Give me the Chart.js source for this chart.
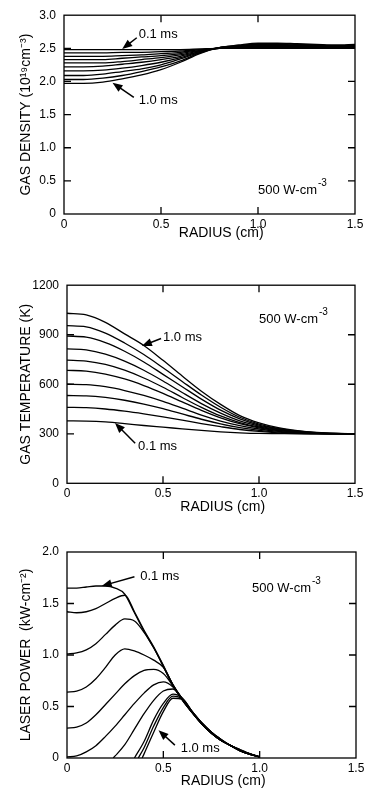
<!DOCTYPE html>
<html lang="en">

<head>
    <meta charset="UTF-8" />
    <title>Gas density, temperature and laser power</title>
    <script src="https://cdn.jsdelivr.net/npm/chart.js"></script>
    <style>
        body { margin: 0; background: #fff; }
        .panel { position: absolute; left: 0; width: 369px; }
    </style>
</head>

<body>

    <div class="panel" style="top:0px;height:245px"><canvas id="densChart"></canvas></div>
    <div class="panel" style="top:270px;height:246px"><canvas id="tempChart"></canvas></div>
    <div class="panel" style="top:535px;height:269px"><canvas id="powerChart"></canvas></div>

</body>

<script>
    // curves at 0.1 ms ... 1.0 ms
    const times = ['0.1 ms', '0.2 ms', '0.3 ms', '0.4 ms', '0.5 ms', '0.6 ms', '0.7 ms', '0.8 ms', '0.9 ms', '1.0 ms'];

    const radiusLabels = ['0', '0.5', '1.0', '1.5'];

    // ---- gas density (10^19 cm^-3) ----
    const densRadius = [0, 0.1, 0.2, 0.3, 0.4, 0.5, 0.6, 0.7, 0.8, 0.9, 1.0, 1.1, 1.2, 1.3, 1.4, 1.5];
    const dens_01 = [2.48, 2.48, 2.48, 2.48, 2.48, 2.48, 2.48, 2.49, 2.50, 2.50, 2.50, 2.50, 2.50, 2.50, 2.50, 2.50];
    const dens_02 = [2.43, 2.43, 2.43, 2.44, 2.44, 2.45, 2.46, 2.48, 2.50, 2.50, 2.51, 2.51, 2.51, 2.51, 2.50, 2.51];
    const dens_03 = [2.38, 2.38, 2.38, 2.39, 2.40, 2.42, 2.44, 2.48, 2.50, 2.51, 2.52, 2.52, 2.51, 2.51, 2.51, 2.51];
    const dens_04 = [2.33, 2.33, 2.33, 2.35, 2.37, 2.39, 2.42, 2.47, 2.50, 2.52, 2.52, 2.52, 2.52, 2.52, 2.52, 2.52];
    const dens_05 = [2.28, 2.28, 2.28, 2.30, 2.33, 2.36, 2.40, 2.46, 2.50, 2.52, 2.53, 2.53, 2.53, 2.52, 2.52, 2.52];
    const dens_06 = [2.22, 2.22, 2.23, 2.26, 2.29, 2.33, 2.38, 2.45, 2.51, 2.53, 2.54, 2.54, 2.54, 2.53, 2.53, 2.53];
    const dens_07 = [2.16, 2.16, 2.17, 2.20, 2.24, 2.29, 2.36, 2.45, 2.51, 2.53, 2.55, 2.55, 2.54, 2.54, 2.53, 2.54];
    const dens_08 = [2.09, 2.09, 2.11, 2.15, 2.19, 2.25, 2.34, 2.44, 2.51, 2.54, 2.56, 2.56, 2.55, 2.55, 2.54, 2.55];
    const dens_09 = [2.03, 2.03, 2.05, 2.09, 2.15, 2.22, 2.31, 2.43, 2.51, 2.54, 2.57, 2.57, 2.56, 2.55, 2.54, 2.55];
    const dens_10 = [1.97, 1.97, 1.99, 2.04, 2.10, 2.18, 2.29, 2.42, 2.51, 2.55, 2.58, 2.58, 2.57, 2.56, 2.55, 2.56];
    const densLabels = ['0', '0.5', '1.0', '1.5', '2.0', '2.5', '3.0'];

    // ---- gas temperature (K) ----
    const tempRadius = [0, 0.1, 0.2, 0.3, 0.4, 0.5, 0.6, 0.7, 0.8, 0.9, 1.0, 1.1, 1.2, 1.3, 1.4, 1.5];
    const temp_01 = [378, 377, 372, 362, 350, 340, 330, 320, 312, 306, 302, 301, 300, 300, 300, 300];
    const temp_02 = [460, 458, 450, 437, 421, 403, 383, 362, 343, 326, 314, 306, 302, 300, 300, 300];
    const temp_03 = [532, 530, 520, 503, 480, 452, 420, 388, 360, 337, 321, 310, 304, 301, 300, 300];
    const temp_04 = [600, 598, 585, 562, 532, 496, 455, 413, 377, 349, 329, 315, 306, 302, 300, 300];
    const temp_05 = [684, 680, 662, 632, 592, 545, 493, 442, 397, 361, 336, 319, 309, 303, 300, 300];
    const temp_06 = [746, 740, 720, 685, 638, 582, 520, 460, 408, 368, 341, 322, 311, 304, 301, 300];
    const temp_07 = [814, 808, 782, 740, 685, 620, 550, 483, 425, 378, 347, 326, 313, 305, 301, 300];
    const temp_08 = [892, 885, 852, 800, 735, 660, 585, 510, 443, 390, 353, 330, 315, 306, 302, 300];
    const temp_09 = [955, 948, 910, 850, 780, 700, 617, 535, 461, 400, 359, 333, 317, 307, 302, 300];
    const temp_10 = [1030, 1020, 975, 905, 835, 745, 650, 558, 478, 410, 366, 337, 319, 308, 302, 300];
    const tempLabels = ['0', '300', '600', '900', '1200'];

    // ---- laser power (kW cm^-2) ----
    const powRadius = [0, 0.05, 0.1, 0.15, 0.2, 0.25, 0.3, 0.35, 0.4, 0.45, 0.5, 0.55, 0.6, 0.65, 0.7, 0.75, 0.8, 0.85, 0.9, 0.95, 1.0];
    const pow_01 = [1.65, 1.65, 1.66, 1.67, 1.67, 1.65, 1.59, 1.41, 1.23, 1.07, 0.89, 0.71, 0.56, 0.44, 0.33, 0.24, 0.17, 0.12, 0.07, 0.035, 0.01];
    const pow_02 = [1.42, 1.41, 1.42, 1.45, 1.50, 1.55, 1.58, 1.42, 1.24, 1.08, 0.90, 0.71, 0.57, 0.44, 0.33, 0.24, 0.17, 0.12, 0.07, 0.04, 0.01];
    const pow_03 = [1.01, 1.02, 1.05, 1.11, 1.20, 1.29, 1.35, 1.33, 1.22, 1.07, 0.89, 0.70, 0.56, 0.44, 0.33, 0.24, 0.17, 0.12, 0.07, 0.035, 0.01];
    const pow_04 = [0.64, 0.65, 0.69, 0.77, 0.88, 1.00, 1.06, 1.04, 1.00, 0.95, 0.88, 0.71, 0.57, 0.45, 0.34, 0.25, 0.18, 0.12, 0.07, 0.04, 0.01];
    const pow_05 = [0.29, 0.30, 0.34, 0.42, 0.52, 0.62, 0.72, 0.80, 0.85, 0.86, 0.82, 0.70, 0.56, 0.44, 0.33, 0.24, 0.17, 0.12, 0.07, 0.035, 0.01];
    const pow_06 = [0.01, 0.02, 0.06, 0.12, 0.21, 0.31, 0.42, 0.53, 0.63, 0.71, 0.74, 0.69, 0.57, 0.45, 0.34, 0.25, 0.18, 0.12, 0.08, 0.04, 0.01];
    const pow_07 = [null, null, null, null, null, 0.02, 0.13, 0.28, 0.43, 0.56, 0.65, 0.67, 0.57, 0.44, 0.33, 0.24, 0.17, 0.12, 0.07, 0.035, 0.01];
    const pow_08 = [null, null, null, null, null, null, null, null, 0.16, 0.37, 0.53, 0.62, 0.58, 0.45, 0.34, 0.25, 0.17, 0.12, 0.07, 0.04, 0.01];
    const pow_09 = [null, null, null, null, null, null, null, null, 0.10, 0.31, 0.49, 0.60, 0.57, 0.44, 0.33, 0.24, 0.17, 0.12, 0.07, 0.035, 0.01];
    const pow_10 = [null, null, null, null, null, null, null, null, 0.04, 0.25, 0.45, 0.58, 0.57, 0.45, 0.34, 0.25, 0.18, 0.12, 0.08, 0.04, 0.01];
    // radius where the late curves leave zero
    const powStart = [null, null, null, null, null, null, 0.24, 0.35, 0.37, 0.39];
    const powLabels = ['0', '0.5', '1.0', '1.5', '2.0'];

    const FONT = '"Liberation Sans", Arial, Helvetica, sans-serif';

    function makeSets(xs, series, starts) {
        return series.map(function (ys, i) {
            var pts = [];
            if (starts && starts[i] != null) pts.push({ x: starts[i], y: 0 });
            ys.forEach(function (v, j) {
                if (v != null) pts.push({ x: xs[j], y: v });
            });
            return {
                label: times[i],
                data: pts,
                borderColor: '#000',
                borderWidth: 1.3,
                pointRadius: 0,
                fill: false,
                cubicInterpolationMode: 'monotone'
            };
        });
    }

    // box with inward ticks + arrows and notes
    const framePlugin = {
        id: 'frame',
        afterDatasetsDraw: function (chart, args, opts) {
            var ctx = chart.ctx;
            var a = chart.chartArea;
            var xs = chart.scales.x, ys = chart.scales.y;
            ctx.save();
            ctx.strokeStyle = '#000';
            ctx.fillStyle = '#000';
            ctx.lineWidth = 1.3;
            ctx.strokeRect(a.left, a.top, a.right - a.left, a.bottom - a.top);
            ctx.beginPath();
            xs.ticks.forEach(function (t) {
                var px = xs.getPixelForValue(t.value);
                if (px <= a.left + 1 || px >= a.right - 1) return;
                ctx.moveTo(px, a.bottom); ctx.lineTo(px, a.bottom - 7);
                ctx.moveTo(px, a.top); ctx.lineTo(px, a.top + 7);
            });
            ys.ticks.forEach(function (t) {
                var py = ys.getPixelForValue(t.value);
                if (py <= a.top + 1 || py >= a.bottom - 1) return;
                ctx.moveTo(a.left, py); ctx.lineTo(a.left + 7, py);
                ctx.moveTo(a.right, py); ctx.lineTo(a.right - 7, py);
            });
            ctx.stroke();

            (opts.notes || []).forEach(function (n) {
                if (n.from) {
                    var x1 = xs.getPixelForValue(n.from[0]), y1 = ys.getPixelForValue(n.from[1]);
                    var x2 = xs.getPixelForValue(n.to[0]), y2 = ys.getPixelForValue(n.to[1]);
                    var ang = Math.atan2(y2 - y1, x2 - x1);
                    ctx.lineWidth = 1.5;
                    ctx.beginPath();
                    ctx.moveTo(x1, y1);
                    ctx.lineTo(x2 - 6 * Math.cos(ang), y2 - 6 * Math.sin(ang));
                    ctx.stroke();
                    ctx.beginPath();
                    ctx.moveTo(x2, y2);
                    ctx.lineTo(x2 - 10 * Math.cos(ang) + 4 * Math.sin(ang), y2 - 10 * Math.sin(ang) - 4 * Math.cos(ang));
                    ctx.lineTo(x2 - 10 * Math.cos(ang) - 4 * Math.sin(ang), y2 - 10 * Math.sin(ang) + 4 * Math.cos(ang));
                    ctx.closePath();
                    ctx.fill();
                }
                var tx = xs.getPixelForValue(n.at[0]), ty = ys.getPixelForValue(n.at[1]);
                ctx.font = '13px ' + FONT;
                ctx.textAlign = 'left';
                ctx.textBaseline = 'middle';
                ctx.fillText(n.text, tx, ty);
                if (n.sup) {
                    var w = ctx.measureText(n.text).width;
                    ctx.font = '10px ' + FONT;
                    ctx.fillText(n.sup, tx + w + 1, ty - 7);
                }
            });
            ctx.restore();
        }
    };

    function makeChart(id, opt) {
        return new Chart(document.getElementById(id), {
            type: 'line',
            data: { datasets: opt.sets },
            plugins: [framePlugin],
            options: {
                responsive: true,
                maintainAspectRatio: false,
                animation: false,
                layout: { padding: { left: 0, top: opt.top, right: opt.right, bottom: 0 } },
                scales: {
                    x: {
                        type: 'linear', min: 0, max: 1.5,
                        grid: { display: false, drawTicks: false },
                        border: { display: false },
                        ticks: {
                            stepSize: 0.5, padding: 3, color: '#000',
                            font: { family: FONT, size: 12 },
                            callback: function (v, i) { return radiusLabels[i]; }
                        },
                        title: {
                            display: true, text: '      RADIUS (cm)', color: '#000',
                            font: { family: FONT, size: 14 },
                            padding: { top: 0, bottom: opt.titleBottom }
                        },
                        afterFit: function (s) { s.height = opt.xHeight; }
                    },
                    y: {
                        min: 0, max: opt.yMax,
                        grid: { display: false, drawTicks: false },
                        border: { display: false },
                        ticks: {
                            stepSize: opt.yStep, padding: 8, color: '#000',
                            font: { family: FONT, size: 12 },
                            callback: function (v, i) { return opt.yLabels[i]; }
                        },
                        title: {
                            display: true, text: opt.yTitle, color: '#000',
                            font: { family: FONT, size: 14 },
                            padding: { top: 18, bottom: 0 }
                        },
                        afterFit: function (s) { s.width = opt.left; }
                    }
                },
                plugins: {
                    legend: { display: false },
                    tooltip: { enabled: false },
                    frame: { notes: opt.notes }
                }
            }
        });
    }

    const densChart = makeChart('densChart', {
        sets: makeSets(densRadius, [dens_01, dens_02, dens_03, dens_04, dens_05, dens_06, dens_07, dens_08, dens_09, dens_10]),
        top: 14, right: 14, left: 64, xHeight: 31, titleBottom: 3.6,
        yMax: 3, yStep: 0.5, yLabels: densLabels,
        yTitle: 'GAS DENSITY (10¹⁹cm⁻³)',
        notes: [
            { text: '0.1 ms', at: [0.385, 2.71], from: [0.375, 2.66], to: [0.30, 2.49] },
            { text: '1.0 ms', at: [0.385, 1.71], from: [0.36, 1.76], to: [0.25, 1.98] },
            { text: '500 W-cm', sup: '-3', at: [1.0, 0.36] }
        ]
    });

    const tempChart = makeChart('tempChart', {
        sets: makeSets(tempRadius, [temp_01, temp_02, temp_03, temp_04, temp_05, temp_06, temp_07, temp_08, temp_09, temp_10]),
        top: 8, right: 14, left: 67, xHeight: 32.7, titleBottom: 0.6,
        yMax: 1200, yStep: 300, yLabels: tempLabels,
        yTitle: 'GAS TEMPERATURE (K)',
        notes: [
            { text: '1.0 ms', at: [0.50, 886], from: [0.49, 877], to: [0.39, 832] },
            { text: '0.1 ms', at: [0.37, 224], from: [0.355, 243], to: [0.25, 365] },
            { text: '500 W-cm', sup: '-3', at: [1.0, 993] }
        ]
    });

    const powerChart = makeChart('powerChart', {
        sets: makeSets(powRadius, [pow_01, pow_02, pow_03, pow_04, pow_05, pow_06, pow_07, pow_08, pow_09, pow_10], powStart),
        top: 17, right: 13, left: 67, xHeight: 46, titleBottom: 14.6,
        yMax: 2, yStep: 0.5, yLabels: powLabels,
        yTitle: 'LASER POWER  (kW-cm⁻²)',
        notes: [
            { text: '0.1 ms', at: [0.38, 1.76], from: [0.35, 1.76], to: [0.18, 1.67] },
            { text: '1.0 ms', at: [0.59, 0.094], from: [0.56, 0.125], to: [0.475, 0.27] },
            { text: '500 W-cm', sup: '-3', at: [0.96, 1.65] }
        ]
    });
</script>

</html>
